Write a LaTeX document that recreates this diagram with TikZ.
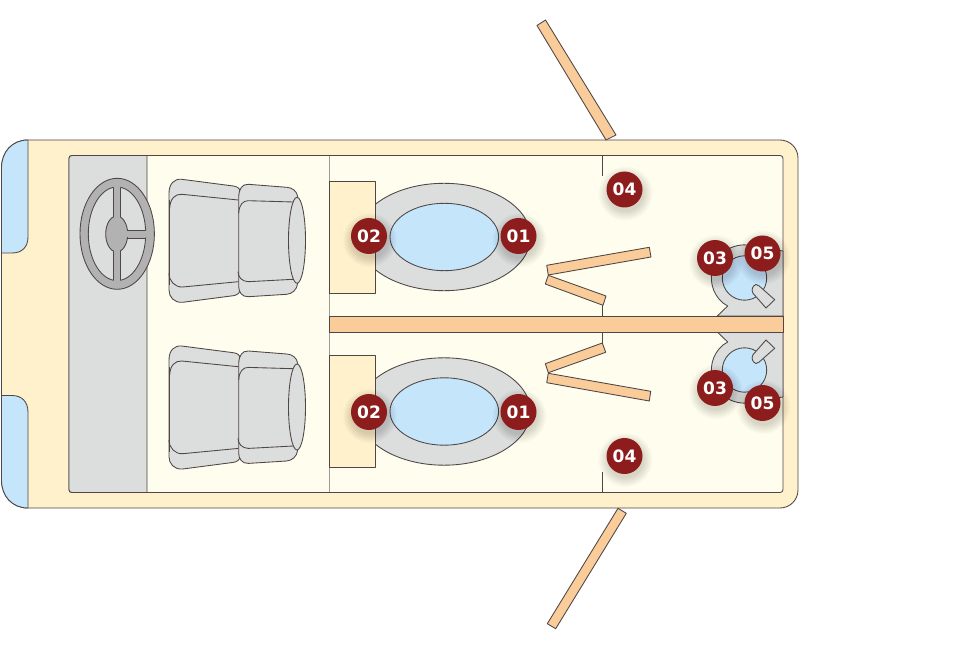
\documentclass[tikz,border=0pt]{standalone}
\usepackage{fontspec}
\setmainfont{DejaVu Sans}
\definecolor{cream}{HTML}{FFF1CC}
\definecolor{inner}{HTML}{FFFDEE}
\definecolor{lgray}{HTML}{DCDDDD}
\definecolor{mgray}{HTML}{B2B2B2}
\definecolor{sky}{HTML}{C5E5FB}
\definecolor{plank}{HTML}{F9CC9A}
\definecolor{wine}{HTML}{8D1C1C}
\definecolor{ink}{HTML}{4F4746}
\tikzset{
  part/.style={draw=ink,line width=0.65pt,line join=round},
  softline/.style={draw=ink!55!white,line width=0.7pt},
  badge/.style={circle,fill=wine,minimum size=27pt,inner sep=0pt,text=white,font=\fontsize{12.8}{12.8}\selectfont\bfseries},
}
\newcommand{\placebadge}[4]{%
  \foreach \rr in {27,26,25,24,23,22,21,20,19,18}{\fill[black,opacity=0.016] (#2+1,#3+4) circle[radius=\rr];}
  \node[badge] (#1) at (#2,#3) {#4};}
\newcommand{\drawseat}[1]{%
\begin{scope}[yshift=#1*-0.75pt]
  \path[part,fill=lgray] (169,193.3) .. controls (169,184) and (174,178.5) .. (181.7,179.3) -- (233.3,186) .. controls (237,186.5) and (240,188) .. (240,191.7) -- (240,290) .. controls (240,293) and (237,295.2) .. (233.3,295.7) -- (182.7,302.3) .. controls (174,303) and (169,297) .. (169,290) -- cycle;
  \path[part] (169.7,208.3) .. controls (170,199) and (175,193.8) .. (181.7,194.3) -- (238.3,200);
  \path[part] (238.3,281.7) -- (182.7,287) .. controls (175,287.5) and (169,281) .. (169,273.3);
  \path[part] (169.3,200) -- (169.3,285);
  \path[part,fill=lgray] (238.7,196.7) .. controls (239,189) and (242,184) .. (248.3,184.3) -- (286.7,187.3) .. controls (292,187.5) and (297,191) .. (297.7,196.7) -- (297.7,283.3) .. controls (297,290) and (292,293.8) .. (286.7,294.3) -- (248.3,296.7) .. controls (242,297) and (238.7,292) .. (238.7,286.7) -- cycle;
  \path[part] (238.7,213.3) .. controls (239,205) and (243,200.5) .. (248.3,200.7) -- (293.3,202);
  \path[part] (293.3,279.3) -- (248.3,281.7) .. controls (242,281.5) and (238,277) .. (238,271.7);
  \path[part,fill=lgray] (297,240.3) ellipse[x radius=8.5,y radius=43];
\end{scope}}
\newcommand{\drawsink}[1]{%
  \path[part,fill=lgray] (444,#1) ellipse[x radius=86.5,y radius=53.7];
  \path[part,fill=sky] (444.3,#1) ellipse[x radius=54.3,y radius=33.7];}
\newcommand{\drawbasin}[1]{% #1 = 1 top, -1 bottom: mirror about y=324
\begin{scope}[shift={(0,324)},yscale=#1]
  \path[part,fill=lgray] (783,-73) -- (756.7,-76.7) arc[start angle=-68,end angle=-229.3,radius=33] -- (727.7,-18) -- (717.3,-8) -- (783,-8) -- cycle;
  \path[part,fill=sky] (744.5,-46) circle[radius=22.2];
  \path[part,fill=lgray] (756,-39.5) .. controls (759,-38.5) and (760,-37.5) .. (760,-37.3) -- (774.7,-24.3) -- (766,-16) -- (753,-30.7) .. controls (751,-34) and (752.5,-38.5) .. (756,-39.5) -- cycle;
\end{scope}}
\begin{document}
\begin{tikzpicture}[x=0.75pt,y=-0.75pt]
\useasboundingbox (0,0) rectangle (961,649);
% body
\path[part,fill=cream] (28,140) -- (780,140) arc[start angle=-90,end angle=-0,radius=18] -- (798,490) arc[start angle=0,end angle=90,radius=18] -- (28,508) .. controls (12,508) and (1.5,496) .. (1.5,480) -- (1.5,168) .. controls (1.5,152) and (12,140) .. (28,140) -- cycle;
\path[part,fill=sky] (28,140) -- (28,237) .. controls (28,247) and (22,253) .. (12,253) -- (1.5,253) -- (1.5,168) .. controls (1.5,152) and (12,140) .. (28,140) -- cycle;
\path[part,fill=sky] (28,508) -- (28,412) .. controls (28,402) and (22,395.5) .. (12,395.5) -- (1.5,395.5) -- (1.5,480) .. controls (1.5,496) and (12,508) .. (28,508) -- cycle;
% interior
\path[part,fill=inner,rounded corners=2.2pt] (69,155.5) rectangle (783,492.5);
\path[part,fill=lgray] (147,155.5) -- (72,155.5) .. controls (70,155.5) and (69,156.5) .. (69,158.5) -- (69,489.5) .. controls (69,491.5) and (70,492.5) .. (72,492.5) -- (147,492.5) -- cycle;
\draw[softline] (329,156) -- (329,492);
% wheel
\path[part,fill=mgray] (117.2,233.8) ellipse[x radius=37.2,y radius=55.5];
\path[part,fill=lgray] (117,233.8) ellipse[x radius=28.7,y radius=46.8];
\begin{scope}
  \clip (117,233.8) ellipse[x radius=28.7,y radius=46.8];
  \path[part,fill=mgray] (113.3,180) rectangle (120.7,290);
  \path[part,fill=mgray] (117,230) rectangle (150,238);
\end{scope}
\path[part,fill=mgray] (116.7,234) ellipse[x radius=11,y radius=18];
\fill[mgray] (113.9,184) rectangle (120.1,284);
\fill[mgray] (118,230.6) rectangle (147,237.4);
% seats
\drawseat{0}
\drawseat{166.7}
% sinks
\drawsink{237}
\drawsink{411.5}
\path[part,fill=cream] (329,181.3) rectangle (375.3,293);
\path[part,fill=cream] (329,355.5) rectangle (375.3,467.5);
% tick marks
\coordinate (t1) at (602.5,155.5); \coordinate (t2) at (602.5,176);
\coordinate (t3) at (602.5,305); \coordinate (t4) at (602.5,316.5);
\coordinate (t5) at (602.5,332); \coordinate (t6) at (602.5,343);
\coordinate (t7) at (602.5,472); \coordinate (t8) at (602.5,492.5);
\draw[part] (t1) -- (t2) (t3) -- (t4) (t5) -- (t6) (t7) -- (t8);
% basins
\drawbasin{1}
\drawbasin{-1}
% centre beam
\path[part,fill=plank] (329,316.5) rectangle (783,332);
% doors
\path[part,fill=plank] (546.7,265.3) -- (649.3,247.3) -- (651,257) -- (548.3,275) -- cycle;
\path[part,fill=plank] (548.3,275.3) -- (606,296) -- (603,305.3) -- (545.3,284) -- cycle;
\path[part,fill=plank] (545.3,363.7) -- (602.3,343) -- (605.7,352.3) -- (548.3,372.7) -- cycle;
\path[part,fill=plank] (548.3,373.3) -- (650.7,391.3) -- (649.3,401) -- (546.7,382.7) -- cycle;
\path[part,fill=plank] (618,508.3) -- (626.3,513.3) -- (555.7,628.7) -- (547.3,623.7) -- cycle;
\path[part,fill=plank] (537,25.5) -- (545.5,20) -- (616,135) -- (606,140) -- cycle;
% badges
\placebadge{a1}{518.5}{236}{01}
\placebadge{a2}{369}{236}{02}
\placebadge{a4}{624.5}{189.5}{04}
\placebadge{a3}{715}{258}{03}
\placebadge{a5}{762.5}{253.5}{05}
\placebadge{b1}{518.5}{412}{01}
\placebadge{b2}{369}{412}{02}
\placebadge{b3}{715}{388}{03}
\placebadge{b5}{762.5}{403}{05}
\placebadge{b4}{624.5}{456}{04}
\end{tikzpicture}
\end{document}
